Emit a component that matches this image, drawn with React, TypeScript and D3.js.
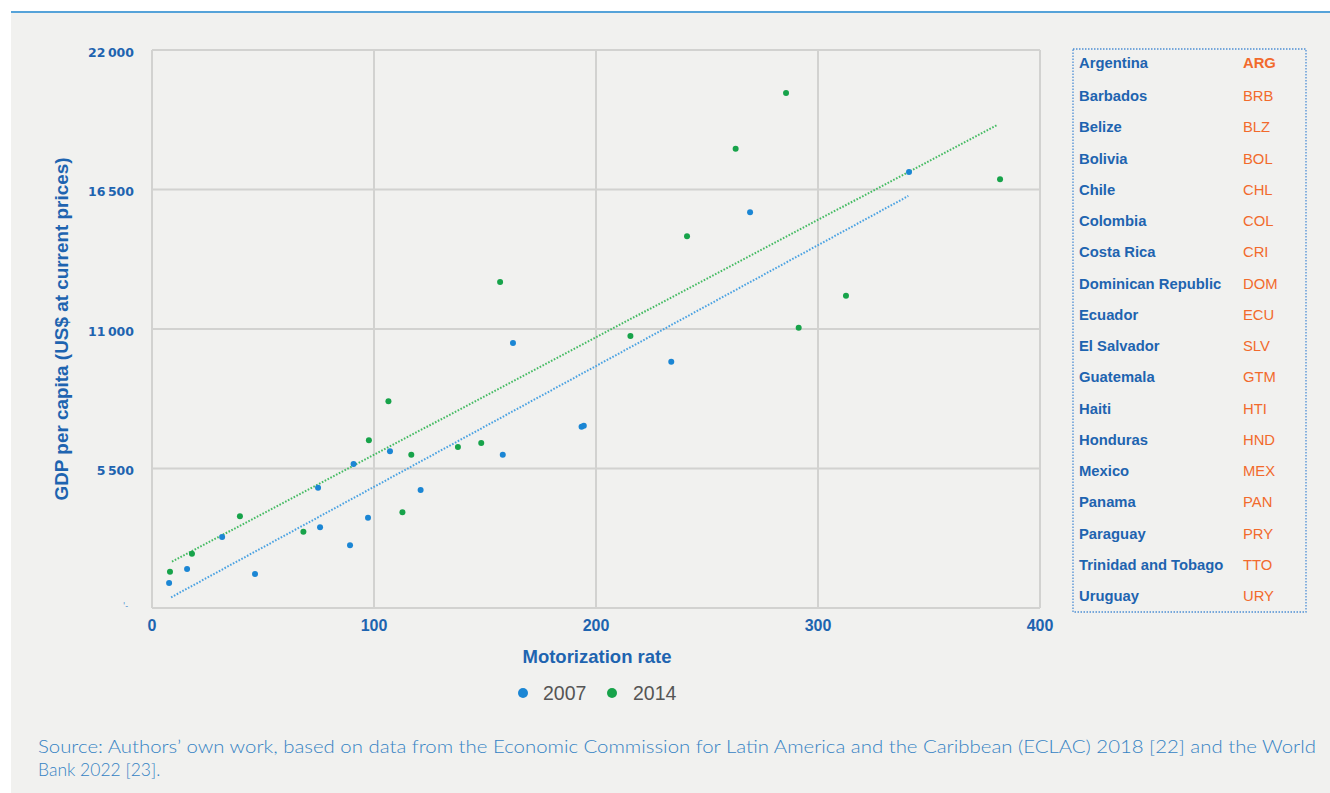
import React from "react";
import * as d3 from "d3";

// Motorization rate (vehicles per 1,000 people) and GDP per capita, 18 countries
const motor2007 = [7.7, 15.8, 31.6, 46.4, 74.8, 75.7, 89.2, 90.8, 97.3, 107.2, 121, 158, 162.6, 193.5, 194.5, 233.9, 269.4, 341];
const gdp2007 = [986, 1538, 2800, 1340, 4743, 3182, 2472, 5678, 3562, 6178, 4653, 6045, 10449, 7149, 7188, 9713, 15600, 17192];

const motor2014 = [8.1, 18, 39.6, 68.2, 97.7, 112.8, 116.8, 106.5, 137.8, 148.3, 156.8, 215.5, 241, 262.9, 285.6, 291.3, 312.6, 382];
const gdp2014 = [1432, 2142, 3615, 3010, 6612, 3773, 6045, 8150, 6348, 6506, 12854, 10725, 14656, 18110, 20307, 11052, 12314, 16904];

// Linear trend lines: [motorization, GDP] at both ends
const trend2007: [number, number][] = [[8.6, 421], [340.7, 16245]];
const trend2014: [number, number][] = [[9, 1826], [380.8, 19045]];

const xTicks = [0, 100, 200, 300, 400];
const yTicks = [5500, 11000, 16500, 22000];
const yTickLabels = ["5\u2009500", "11\u2009000", "16\u2009500", "22\u2009000"];

const countries = [
  "Argentina", "Barbados", "Belize", "Bolivia", "Chile", "Colombia", "Costa Rica",
  "Dominican Republic", "Ecuador", "El Salvador", "Guatemala", "Haiti", "Honduras",
  "Mexico", "Panama", "Paraguay", "Trinidad and Tobago", "Uruguay",
];
const codes = [
  "ARG", "BRB", "BLZ", "BOL", "CHL", "COL", "CRI", "DOM", "ECU", "SLV", "GTM", "HTI",
  "HND", "MEX", "PAN", "PRY", "TTO", "URY",
];

const series = [
  { name: "2007", xs: motor2007, ys: gdp2007, trend: trend2007, dot: "#1b86d4", line: "#4aa2e2" },
  { name: "2014", xs: motor2014, ys: gdp2014, trend: trend2014, dot: "#17a34a", line: "#45bb63" },
];

const W = 1330;
const H = 793;
const BLUE = "#1e64b0";
const GRID = "#d2d2d0";
const BOLD = "'Liberation Sans', Arial, sans-serif";

export default function App() {
  const x = d3.scaleLinear().domain([0, 400]).range([152, 1040]);
  const y = d3.scaleLinear().domain([0, 22000]).range([608, 50]);
  const line = d3
    .line<[number, number]>()
    .x((d) => x(d[0]))
    .y((d) => y(d[1]));

  const rowY = (i: number) => (i === 0 ? 63 : 96 + (i - 1) * 31.25);

  return (
    <svg
      width={W}
      height={H}
      viewBox={`0 0 ${W} ${H}`}
      style={{ position: "absolute", left: 0, top: 0, display: "block" }}
    >
      <rect x={0} y={0} width={W} height={H} fill="#ffffff" />
      <rect x={11} y={12} width={W - 11} height={H - 12} fill="#f1f1ef" />
      <line x1={11} x2={W} y1={12} y2={12} stroke="#56a3d9" strokeWidth={2} />

      {/* grid and frame */}
      <g>
        {xTicks.map((t) => (
          <line key={`gx${t}`} x1={x(t)} x2={x(t)} y1={y(22000)} y2={y(0)} stroke={GRID} strokeWidth={2} />
        ))}
        {[0, ...yTicks].map((t) => (
          <line key={`gy${t}`} x1={x(0)} x2={x(400)} y1={y(t)} y2={y(t)} stroke={GRID} strokeWidth={2} />
        ))}
      </g>

      {/* y tick labels */}
      <g fontFamily="'DejaVu Sans', sans-serif" fontWeight="bold" fontSize={12.5} fill={BLUE}>
        {yTicks.map((t, i) => (
          <text key={t} x={134} y={y(t) + 3} textAnchor="end" dominantBaseline="middle">
            {yTickLabels[i]}
          </text>
        ))}
        <text x={123} y={609} fontSize={8} fontWeight="normal" fill="#4f8fd0">
          '-
        </text>
      </g>

      {/* x tick labels */}
      <g fontFamily={BOLD} fontWeight="bold" fontSize={16} fill={BLUE}>
        {xTicks.map((t) => (
          <text key={t} x={x(t)} y={631} textAnchor="middle">
            {t}
          </text>
        ))}
      </g>

      {/* axis titles */}
      <text
        x={0}
        y={0}
        transform={`translate(68,329) rotate(-90)`}
        textAnchor="middle"
        fontFamily={BOLD}
        fontWeight="bold"
        fontSize={18}
        textLength={343}
        lengthAdjust="spacingAndGlyphs"
        fill={BLUE}
      >
        GDP per capita (US$ at current prices)
      </text>
      <text
        x={597}
        y={663}
        textAnchor="middle"
        fontFamily={BOLD}
        fontWeight="bold"
        fontSize={18.5}
        fill={BLUE}
      >
        Motorization rate
      </text>

      {/* trend lines */}
      {series.map((s) => (
        <path
          key={`t${s.name}`}
          d={line(s.trend) || ""}
          fill="none"
          stroke={s.line}
          strokeWidth={2}
          strokeDasharray="1.6 1.6"
        />
      ))}

      {/* points */}
      {series.map((s) => (
        <g key={`p${s.name}`} fill={s.dot}>
          {s.xs.map((v, i) => (
            <circle key={i} cx={x(v)} cy={y(s.ys[i])} r={3} />
          ))}
        </g>
      ))}

      {/* series legend */}
      <g fontFamily={BOLD} fontSize={19.5} fill="#555555">
        <circle cx={523} cy={693} r={5} fill={series[0].dot} />
        <text x={543} y={700}>2007</text>
        <circle cx={612} cy={693} r={5} fill={series[1].dot} />
        <text x={633} y={700}>2014</text>
      </g>

      {/* country list */}
      <rect
        x={1073}
        y={49}
        width={233}
        height={563}
        fill="none"
        stroke="#4d8fd4"
        strokeWidth={1.3}
        strokeDasharray="1.5 1.5"
      />
      <g fontFamily={BOLD} fontSize={14.8}>
        {countries.map((c, i) => (
          <g key={c}>
            <text x={1079} y={rowY(i) + 5} fontWeight="bold" fill={BLUE}>
              {c}
            </text>
            <text
              x={1243}
              y={rowY(i) + 5}
              fill="#f26a2c"
              fontWeight={i === 0 ? "bold" : "normal"}
            >
              {codes[i]}
            </text>
          </g>
        ))}
      </g>

      {/* source note */}
      <g fontFamily="Lato, 'Liberation Sans', sans-serif" fontWeight={300} fontSize={17.5} fill="#3583c4">
        <text x={38} y={753} textLength={1278} lengthAdjust="spacingAndGlyphs">
          Source: Authors’ own work, based on data from the Economic Commission for Latin America and the Caribbean (ECLAC) 2018 [22] and the World
        </text>
        <text x={38} y={776}>
          Bank 2022 [23].
        </text>
      </g>
    </svg>
  );
}
